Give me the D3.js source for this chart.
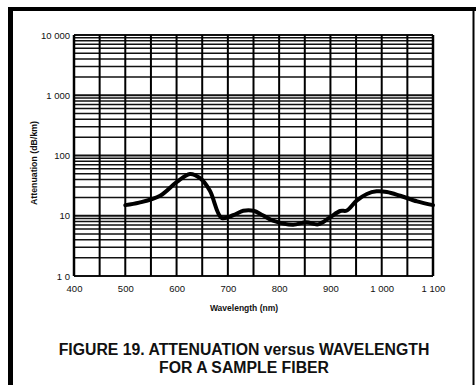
<!DOCTYPE html>
<html><head><meta charset="utf-8">
<script src="https://cdn.jsdelivr.net/npm/d3@7"></script>
<style>html,body{margin:0;padding:0;background:#fff;}svg{display:block;}</style>
</head><body>
<script>
const wavelengths = [500,527,568,600,626,646,665,688,710,730,750,768,788,827,853,876,899,919,932,951,971,990,1010,1036,1069,1100];
const attenuation = [15,16.5,21.5,36,49.5,42,26,9.2,10.2,12.1,12.1,10.2,8.3,7.1,7.8,7.2,9.4,12,12.2,17.8,23,25.4,24.8,21.5,17.3,15];
const xTicks = [400,500,600,700,800,900,1000,1100];
const xTickLabels = ["400","500","600","700","800","900","1 000","1 100"];
const yTicks = [1,10,100,1000,10000];
const yTickLabels = ["1 0","10","100","1 000","10 000"];
const xTitle = "Wavelength (nm)";
const yTitle = "Attenuation (dB/km)";
const titleLines = ["FIGURE 19. ATTENUATION versus WAVELENGTH","FOR A SAMPLE FIBER"];

const W=476,H=385;
const svg=d3.select("body").append("svg").attr("width",W).attr("height",H);
svg.append("rect").attr("width",W).attr("height",H).attr("fill","#fff");

// frame
svg.append("line").attr("x1",8).attr("x2",W).attr("y1",9).attr("y2",9).attr("stroke","#000").attr("stroke-width",4);
svg.append("line").attr("x1",10.5).attr("x2",10.5).attr("y1",7).attr("y2",H).attr("stroke","#000").attr("stroke-width",5);
svg.append("line").attr("x1",473.5).attr("x2",473.5).attr("y1",9).attr("y2",H).attr("stroke","#000").attr("stroke-width",2);

const L=74,R=433,T=35,B=276;
const x=d3.scaleLinear().domain([400,1100]).range([L,R]);
const y=d3.scaleLog().domain([1,10000]).range([B,T]);

const g=svg.append("g");
const hVals=[];
for(let d=1;d<10000;d*=10){for(let k=1;k<10;k++){hVals.push(d*k);}}
hVals.push(10000);
g.selectAll("line.h").data(hVals).enter().append("line")
 .attr("x1",L).attr("x2",R).attr("y1",d=>y(d)).attr("y2",d=>y(d))
 .attr("stroke","#111").attr("stroke-width",d=>{const l=Math.log10(d);return Math.abs(l-Math.round(l))<1e-9?2:1.5;});
const vVals=d3.range(400,1101,50);
g.selectAll("line.v").data(vVals).enter().append("line")
 .attr("x1",d=>x(d)).attr("x2",d=>x(d)).attr("y1",T).attr("y2",B)
 .attr("stroke","#000").attr("stroke-width",d=>(d===400||d===1100)?2.5:2);

const tickFont="Liberation Sans Narrow, Arial Narrow, Liberation Sans, sans-serif";
const xAxis=d3.axisBottom(x).tickValues(xTicks).tickFormat((d,i)=>xTickLabels[i]).tickSize(0).tickPadding(9);
const ax=svg.append("g").attr("transform",`translate(0,${B})`).call(xAxis);
ax.select(".domain").remove();
ax.selectAll("text").attr("font-family",tickFont).attr("font-size",9.5).attr("fill","#111");

const yAxis=d3.axisLeft(y).tickValues(yTicks).tickFormat((d,i)=>yTickLabels[i]).tickSize(0).tickPadding(4);
const ay=svg.append("g").attr("transform",`translate(${L},0)`).call(yAxis);
ay.select(".domain").remove();
ay.selectAll("text").attr("font-family",tickFont).attr("font-size",9.5).attr("fill","#111");

const pts=wavelengths.map((w,i)=>[w,attenuation[i]]);
const line=d3.line().x(d=>x(d[0])).y(d=>y(d[1])).curve(d3.curveCatmullRom.alpha(0.5));
svg.append("path").attr("d",line(pts)).attr("fill","none").attr("stroke","#000").attr("stroke-width",4).attr("stroke-linejoin","round").attr("stroke-linecap","round");

svg.append("text").attr("x",244).attr("y",311).attr("text-anchor","middle")
 .attr("font-family","Liberation Sans, Arial, sans-serif").attr("font-size",8.5).attr("font-weight","bold").attr("fill","#111").text(xTitle);
svg.append("text").attr("transform","translate(37,163) rotate(-90)").attr("text-anchor","middle")
 .attr("font-family","Liberation Sans, Arial, sans-serif").attr("font-size",8.8).attr("font-weight","bold").attr("fill","#111").text(yTitle);

titleLines.forEach((t,i)=>{
 svg.append("text").attr("x",244).attr("y",355+i*18).attr("text-anchor","middle")
  .attr("font-family","Liberation Sans, Arial, sans-serif").attr("font-size",15.8).attr("font-weight","bold").attr("fill","#111").text(t);
});
</script>
</body></html>
